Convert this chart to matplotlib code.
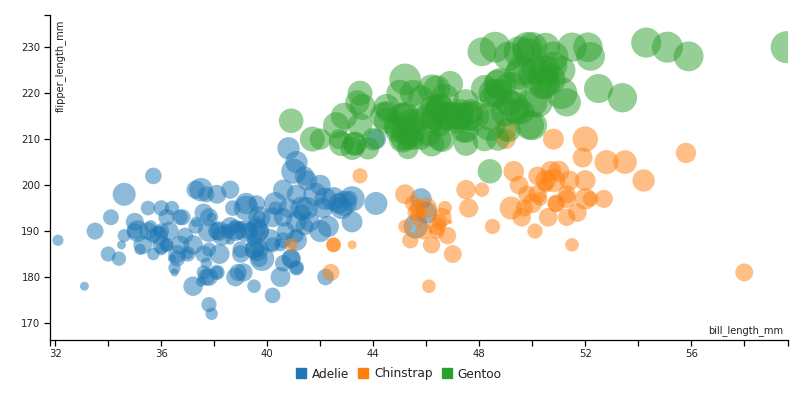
import numpy as np
import matplotlib
matplotlib.use("Agg")
import matplotlib.pyplot as plt
from matplotlib.lines import Line2D

# bill_length_mm, flipper_length_mm, body_mass_g per species
adelie_bill = [39.1, 39.5, 40.3, 36.7, 39.3, 38.9, 39.2, 34.1, 42.0, 37.8, 37.8, 41.1, 38.6, 34.6, 36.6, 38.7, 42.5, 34.4, 46.0, 37.8, 37.7, 35.9, 38.2, 38.8, 35.3, 40.6, 40.5, 37.9, 40.5, 39.5, 37.2, 39.5, 40.9, 36.4, 39.2, 38.8, 42.2, 37.6, 39.8, 36.5, 40.8, 36.0, 44.1, 37.0, 39.6, 41.1, 37.5, 36.0, 42.3, 39.6, 40.1, 35.0, 42.0, 34.5, 41.4, 39.0, 40.6, 36.5, 37.6, 35.7, 41.3, 37.6, 41.1, 36.4, 41.6, 35.5, 41.1, 35.9, 41.8, 33.5, 39.7, 39.6, 45.8, 35.5, 42.8, 40.9, 37.2, 36.2, 42.1, 34.6, 42.9, 36.7, 35.1, 37.3, 41.3, 36.3, 36.9, 38.3, 38.9, 35.7, 41.1, 34.0, 39.6, 36.2, 40.8, 38.1, 40.3, 33.1, 43.2, 35.0, 41.0, 37.7, 37.8, 37.9, 39.7, 38.6, 38.2, 38.1, 43.2, 38.1, 45.6, 39.7, 42.2, 39.6, 42.7, 38.6, 37.3, 35.7, 41.1, 36.2, 37.7, 40.2, 41.4, 35.2, 40.6, 38.8, 41.5, 39.0, 44.1, 38.5, 43.1, 36.8, 37.5, 38.1, 41.1, 35.6, 40.2, 37.0, 39.7, 40.2, 40.6, 32.1, 40.7, 37.3, 39.0, 39.2, 36.6, 36.0, 37.8, 36.0, 41.5]
adelie_flipper = [181, 186, 195, 193, 190, 181, 195, 193, 190, 186, 180, 182, 191, 198, 185, 195, 197, 184, 194, 174, 180, 189, 185, 180, 187, 183, 187, 172, 180, 178, 178, 188, 184, 195, 196, 190, 180, 181, 184, 182, 195, 186, 196, 185, 190, 182, 179, 190, 191, 186, 188, 190, 200, 187, 191, 186, 193, 181, 194, 185, 195, 185, 192, 184, 192, 195, 188, 190, 198, 190, 190, 196, 197, 190, 195, 184, 187, 193, 195, 189, 196, 187, 190, 191, 194, 190, 189, 189, 190, 202, 205, 185, 186, 187, 208, 190, 196, 178, 192, 192, 203, 183, 190, 193, 184, 199, 190, 181, 197, 198, 191, 193, 197, 191, 196, 188, 199, 189, 189, 187, 198, 176, 202, 186, 199, 191, 195, 191, 210, 190, 197, 193, 199, 181, 198, 191, 193, 185, 193, 187, 188, 188, 190, 192, 185, 190, 184, 195, 193, 187, 201]
adelie_mass = [3750, 3800, 3250, 3450, 3650, 3625, 4675, 3475, 4250, 3300, 3700, 3200, 3800, 4400, 3700, 3450, 4500, 3325, 4200, 3400, 3600, 3800, 3950, 3800, 3800, 3550, 3200, 3150, 3950, 3250, 3900, 3300, 3900, 3325, 4150, 3950, 3550, 3300, 4650, 3150, 3900, 3100, 4400, 3000, 4600, 3425, 2975, 3450, 4150, 3500, 4300, 3450, 4050, 2900, 3700, 3550, 3800, 2850, 3750, 3150, 4400, 3600, 4050, 2850, 3950, 3350, 4100, 3050, 4450, 3600, 3900, 3550, 4150, 3700, 4250, 3700, 3900, 3550, 4000, 3200, 4700, 3800, 4200, 3350, 3550, 3800, 3500, 3950, 3600, 3550, 4300, 3400, 4450, 3300, 4300, 3700, 4350, 2900, 4100, 3725, 4725, 3075, 4250, 2925, 3550, 3750, 3900, 3175, 4775, 3825, 4600, 3200, 4275, 3900, 4075, 2900, 3775, 3350, 3325, 3150, 3500, 3450, 3875, 3050, 4000, 3275, 4300, 3050, 4000, 3325, 3500, 3500, 4475, 3425, 3900, 3175, 3975, 3400, 4250, 3400, 3475, 3050, 3725, 3000, 3650, 4250, 3475, 3450, 3750, 3700, 4000]

chinstrap_bill = [46.5, 50.0, 51.3, 45.4, 52.7, 45.2, 46.1, 51.3, 46.0, 51.3, 46.6, 51.7, 47.0, 52.0, 45.9, 50.5, 50.3, 58.0, 46.4, 49.2, 42.4, 48.5, 43.2, 50.6, 46.7, 52.0, 50.5, 49.5, 46.4, 52.8, 40.9, 54.2, 42.5, 51.0, 49.7, 47.5, 47.6, 52.0, 46.9, 53.5, 49.0, 46.2, 50.9, 45.5, 50.9, 50.8, 50.1, 49.0, 51.5, 49.8, 48.1, 51.4, 45.7, 50.7, 42.5, 52.2, 45.2, 49.3, 50.2, 45.6, 51.9, 46.8, 45.7, 55.8, 43.5, 49.6, 50.8, 50.2]
chinstrap_flipper = [192, 196, 193, 188, 197, 198, 178, 197, 195, 198, 193, 194, 185, 201, 190, 201, 197, 181, 190, 195, 181, 191, 187, 193, 195, 197, 200, 200, 191, 205, 187, 201, 187, 203, 195, 199, 195, 210, 192, 205, 210, 187, 196, 196, 196, 201, 190, 212, 187, 198, 199, 201, 193, 203, 187, 197, 191, 203, 202, 194, 206, 189, 195, 207, 202, 193, 210, 198]
chinstrap_mass = [3500, 3900, 3650, 3525, 3725, 3950, 3250, 3750, 4150, 3700, 3800, 3775, 3700, 4050, 3575, 4050, 3300, 3700, 3450, 4400, 3600, 3400, 2900, 3800, 3300, 4150, 3400, 3800, 3700, 4550, 3200, 4300, 3350, 4100, 3600, 3900, 3850, 4800, 2700, 4500, 3950, 3650, 3550, 3500, 3675, 4450, 3400, 4300, 3250, 3675, 3325, 3950, 3600, 4050, 3350, 3450, 3250, 4050, 3800, 3525, 3950, 3650, 3650, 4000, 3400, 3775, 4100, 3775]

gentoo_bill = [46.1, 50.0, 48.7, 50.0, 47.6, 46.5, 45.4, 46.7, 43.3, 46.8, 40.9, 49.0, 45.5, 48.4, 45.8, 49.3, 42.0, 49.2, 46.2, 48.7, 50.2, 45.1, 46.5, 46.3, 42.9, 46.1, 44.5, 47.8, 48.2, 50.0, 47.3, 42.8, 45.1, 59.6, 49.1, 48.4, 42.6, 44.4, 44.0, 48.7, 42.7, 49.6, 45.3, 49.6, 50.5, 43.6, 45.5, 50.5, 44.9, 45.2, 46.6, 48.5, 45.1, 50.1, 46.5, 45.0, 43.8, 45.5, 43.2, 50.4, 45.3, 46.2, 45.7, 54.3, 45.8, 49.8, 46.2, 49.5, 43.5, 50.7, 47.7, 46.4, 48.2, 46.5, 46.4, 48.6, 47.5, 51.1, 45.2, 45.2, 49.1, 52.5, 47.4, 50.0, 44.9, 50.8, 43.4, 51.3, 47.5, 52.1, 47.5, 52.2, 45.5, 49.5, 44.5, 50.8, 49.4, 46.9, 48.4, 51.1, 48.5, 55.9, 47.2, 49.1, 47.3, 46.8, 41.7, 53.4, 43.3, 48.1, 50.5, 49.8, 43.5, 51.5, 46.2, 55.1, 44.5, 48.8, 47.2, 46.8, 50.4, 45.2, 49.9]
gentoo_flipper = [211, 230, 210, 218, 215, 210, 211, 219, 209, 215, 214, 216, 214, 213, 210, 217, 210, 221, 209, 222, 218, 215, 213, 215, 215, 215, 216, 215, 210, 213, 215, 209, 210, 230, 218, 215, 213, 215, 210, 220, 210, 225, 210, 216, 222, 217, 210, 225, 213, 215, 210, 220, 210, 225, 217, 220, 208, 220, 208, 224, 208, 221, 214, 231, 219, 230, 214, 229, 220, 223, 216, 221, 221, 217, 216, 230, 209, 220, 215, 223, 212, 221, 212, 224, 212, 228, 218, 218, 212, 230, 218, 228, 212, 224, 214, 226, 216, 222, 203, 225, 219, 228, 215, 228, 216, 215, 210, 219, 209, 229, 230, 229, 213, 230, 217, 230, 217, 222, 214, 215, 222, 212, 213]
gentoo_mass = [4500, 5700, 4450, 5700, 5400, 4500, 4800, 5200, 4400, 5150, 4650, 5550, 4650, 5850, 4200, 5850, 4150, 6300, 4800, 5350, 5700, 5000, 4400, 5050, 5000, 5100, 4100, 5650, 4600, 5550, 5250, 4700, 5050, 6050, 5150, 5400, 4950, 5250, 4350, 5350, 3950, 5700, 4300, 4750, 5550, 4900, 4200, 5400, 5100, 5300, 4850, 5300, 4400, 5000, 4900, 5050, 4300, 5000, 4450, 5550, 4200, 5300, 4400, 5650, 4700, 5700, 4650, 5800, 4700, 5550, 4750, 5000, 5100, 5200, 4700, 5800, 4600, 6000, 4750, 5950, 4625, 5450, 4725, 5350, 4750, 5600, 4600, 5300, 4875, 5550, 4950, 5400, 4750, 5650, 4850, 5200, 4925, 4875, 4625, 5250, 4850, 5600, 4975, 5500, 4725, 5500, 4700, 5500, 4575, 5400, 5400, 5300, 4650, 5500, 4375, 5850, 4875, 6000, 4925, 4850, 5750, 5200, 5400]

species = ["Adelie", "Chinstrap", "Gentoo"]
colors = ["#1f77b4", "#ff7f0e", "#2ca02c"]
xlim = (31.8, 59.65)
ylim = (166.3, 237.0)

W, H = 798, 398
fig = plt.figure(figsize=(W / 100, H / 100), dpi=100)
ax = fig.add_axes([50 / W, (H - 340) / H, 738 / W, 325 / H])

data = [
    (adelie_bill, adelie_flipper, adelie_mass),
    (chinstrap_bill, chinstrap_flipper, chinstrap_mass),
    (gentoo_bill, gentoo_flipper, gentoo_mass),
]
for (bx, fy, m), col in zip(data, colors):
    # radius^2 grows linearly with mass (sqrt scale), converted to points^2
    s = 0.1555 * (np.array(m) - 2633)
    ax.scatter(bx, fy, s=s, color=col, alpha=0.5, linewidths=0, clip_on=True)

ax.set_xlim(*xlim)
ax.set_ylim(*ylim)
for side in ["top", "right"]:
    ax.spines[side].set_visible(False)
for side in ["left", "bottom"]:
    ax.spines[side].set_linewidth(0.9)

xt = np.arange(32, 59, 2)
ax.set_xticks(xt)
ax.set_xticklabels([str(v) if v % 4 == 0 else "" for v in xt])
ax.set_xticks(list(xlim), minor=True)
ax.set_yticks(np.arange(170, 231, 10))
ax.set_yticks([ylim[1]], minor=True)
ax.tick_params(which="both", length=4.3, width=0.9, labelsize=7.3, colors="black",
               labelcolor="#222222", pad=2.5)

ax.text(0.993, 0.012, "bill_length_mm", transform=ax.transAxes, ha="right", va="bottom",
        fontsize=7.1, color="#222222")
ax.text(0.006, 0.985, "flipper_length_mm", transform=ax.transAxes, ha="left", va="top",
        rotation=90, fontsize=7.1, color="#222222")

handles = [Line2D([], [], marker="s", linestyle="", markersize=7.3, color=c, label=n)
           for n, c in zip(species, colors)]
fig.legend(handles=handles, loc="center", bbox_to_anchor=(0.5, 1 - 374 / H), ncol=3,
           frameon=False, fontsize=8.7, handlelength=0.8, handletextpad=0.5,
           columnspacing=0.75, labelcolor="#222222")

fig.savefig("out.png", dpi=100)
